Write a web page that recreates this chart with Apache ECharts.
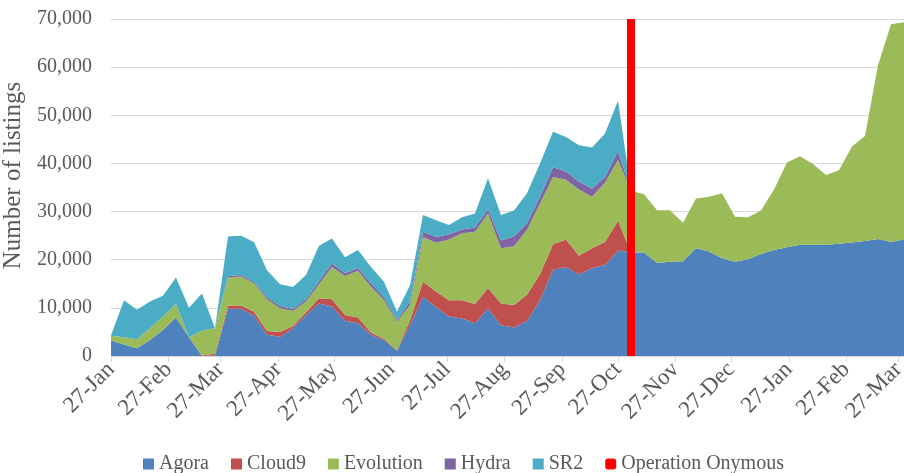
<!DOCTYPE html>
<html>
<head>
<meta charset="utf-8">
<title>Number of listings</title>
<script src="https://cdn.jsdelivr.net/npm/echarts@6.0.0/dist/echarts.min.js"></script>
<style>
  html, body { margin: 0; padding: 0; background: #fff; }
  #main { width: 904px; height: 473px; }
</style>
</head>
<body>
<div id="main"></div>
<script>
  // weekly snapshots, first one taken on 27 Jan 2014
  var startYear = 2014, startMonth = 0, startDay = 27
  var weekCount = 62

  var agora = [3200, 2400, 1600, 3300, 5400, 8000, 3900, 0, 100,
    9800, 9800, 8400, 4400, 4000, 5750, 8500, 10900, 10300, 7300, 6800,
    4400, 3300, 1100, 6400, 12300, 10200, 8200, 7800, 6800, 9900, 6400, 5900, 7300, 11600, 17900, 18500, 17000, 18300, 18900, 21900, 21500,
    21500, 19300, 19600, 19700, 22400, 21700, 20300, 19600, 20100, 21200, 22000, 22600, 23100, 23100, 23100, 23300, 23600, 23900, 24300, 23700, 24200]
  var cloud9 = [0, 0, 0, 0, 0, 0, 0, 100, 400,
    700, 700, 800, 800, 1000, 500, 600, 1100, 1500, 1200, 1200,
    500, 300, 100, 1000, 3100, 3200, 3400, 3800, 4000, 4200, 4500, 4700, 5400, 5400, 5300, 5700, 3800, 4100, 4800, 6200, 0,
    0, 0, 0, 0, 0, 0, 0, 0, 0, 0, 0, 0, 0, 0, 0, 0, 0, 0, 0, 0, 0]
  var evolution = [1000, 1500, 1900, 2450, 2800, 2800, 0, 5200, 5250,
    5800, 6000, 5900, 6600, 4900, 3100, 2200, 2900, 6700, 8100, 9700,
    9500, 8000, 5900, 3200, 9300, 10100, 12600, 13900, 15000, 15500, 11500, 12200, 13500, 14700, 14000, 12400, 13800, 10700, 12300, 12600, 12800,
    12100, 11000, 10700, 8000, 10300, 11400, 13500, 9300, 8700, 9000, 12600, 17600, 18400, 16800, 14500, 15300, 19900, 21800, 36100, 45200, 45100]
  var hydra = [0, 0, 0, 0, 0, 0, 0, 0, 0,
    300, 300, 300, 400, 500, 400, 500, 700, 700, 600, 600,
    700, 600, 400, 700, 1100, 1200, 1100, 800, 900, 900, 1600, 2000, 1400, 1400, 2000, 1700, 1600, 1700, 1200, 1900, 0,
    0, 0, 0, 0, 0, 0, 0, 0, 0, 0, 0, 0, 0, 0, 0, 0, 0, 0, 0, 0, 0]
  var sr2 = [100, 7700, 6100, 5550, 4300, 5500, 6100, 7700, 0,
    8200, 8200, 8300, 5600, 4500, 4600, 5000, 7300, 5200, 3300, 3700,
    3400, 3200, 1700, 3400, 3500, 3500, 1900, 2500, 2900, 6400, 5300, 5400, 6200, 6900, 7400, 7200, 7600, 8500, 9000, 10400, 0,
    0, 0, 0, 0, 0, 0, 0, 0, 0, 0, 0, 0, 0, 0, 0, 0, 0, 0, 0, 0, 0]

  // Operation Onymous falls on the week of 3 Nov 2014 (week 40)
  var onymousWeek = 40
  var onymousRange = [0, 70000]

  var monthNames = ['Jan', 'Feb', 'Mar', 'Apr', 'May', 'Jun', 'Jul', 'Aug', 'Sep', 'Oct', 'Nov', 'Dec']
  var tickMonths = 15

  var DAY = 86400000
  var start = Date.UTC(startYear, startMonth, startDay)
  var weeks = []
  for (var i = 0; i < weekCount; i++) weeks.push(start + 7 * i * DAY)
  var lastDay = 7 * (weekCount - 1)

  // month ticks (27th of each month), in days since the first snapshot
  var ticks = []
  for (var m = 0; m < tickMonths; m++) {
    ticks.push(Math.round((Date.UTC(startYear, startMonth + m, startDay) - start) / DAY))
  }

  function pairs(values) {
    return values.map(function (v, i) { return [weeks[i], v] })
  }

  var font = "'Liberation Serif', 'Times New Roman', serif"
  var grey = '#595959'
  var lineGrey = '#d9d9d9'

  function area(name, color, values) {
    return {
      name: name,
      type: 'line',
      stack: 'total',
      symbol: 'none',
      lineStyle: { width: 0 },
      areaStyle: { color: color, opacity: 1 },
      itemStyle: { color: color },
      data: pairs(values)
    }
  }

  var chart = echarts.init(document.getElementById('main'))
  chart.setOption({
    backgroundColor: '#fff',
    animation: false,
    grid: {
      left: 111,
      right: 0,
      top: 19,
      bottom: 117,
      outerBoundsMode: 'none'
    },
    legend: {
      left: 138,
      bottom: -6,
      icon: 'rect',
      itemWidth: 11,
      itemHeight: 11,
      itemGap: 22,
      textStyle: { color: grey, fontFamily: font, fontSize: 20 },
      data: ['Agora', 'Cloud9', 'Evolution', 'Hydra', 'SR2',
        { name: 'Operation Onymous', icon: 'roundRect' }]
    },
    xAxis: [
      {
        // the series sit on a time axis so they stack by week
        type: 'time',
        min: weeks[0],
        max: weeks[weeks.length - 1],
        axisLine: { show: false },
        axisTick: { show: false },
        axisLabel: { show: false },
        splitLine: { show: false }
      },
      {
        // same span in days, only used for the month ticks and labels
        type: 'value',
        position: 'bottom',
        min: 0,
        max: lastDay,
        axisLine: { show: true, onZero: false, lineStyle: { color: lineGrey } },
        axisTick: { show: true, customValues: ticks, length: 6, lineStyle: { color: lineGrey } },
        splitLine: { show: false },
        axisLabel: {
          customValues: ticks,
          rotate: 45,
          margin: 10,
          color: grey,
          fontFamily: font,
          fontSize: 23,
          formatter: function (v) {
            var d = new Date(start + v * DAY)
            return d.getUTCDate() + '-' + monthNames[d.getUTCMonth()]
          }
        }
      }
    ],
    yAxis: {
      type: 'value',
      min: 0,
      max: 70000,
      interval: 10000,
      name: 'Number of listings',
      nameLocation: 'middle',
      nameGap: 84,
      nameTextStyle: { color: grey, fontFamily: font, fontSize: 25, padding: [0, 0, 0, 24] },
      axisLine: { show: false },
      axisTick: { show: false },
      splitLine: { lineStyle: { color: lineGrey, width: 1 } },
      axisLabel: {
        margin: 19,
        color: grey,
        fontFamily: font,
        fontSize: 20,
        formatter: function (v) { return v.toLocaleString('en-US') }
      }
    },
    series: [
      area('Agora', '#4F81BD', agora),
      area('Cloud9', '#C0504D', cloud9),
      area('Evolution', '#9BBB59', evolution),
      area('Hydra', '#8064A2', hydra),
      area('SR2', '#4BACC6', sr2),
      {
        name: 'Operation Onymous',
        type: 'line',
        symbol: 'none',
        z: 5,
        itemStyle: { color: '#FF0000' },
        lineStyle: { color: '#FF0000', width: 8, cap: 'butt' },
        data: onymousRange.map(function (v) { return [weeks[onymousWeek], v] })
      }
    ]
  })
</script>
</body>
</html>
